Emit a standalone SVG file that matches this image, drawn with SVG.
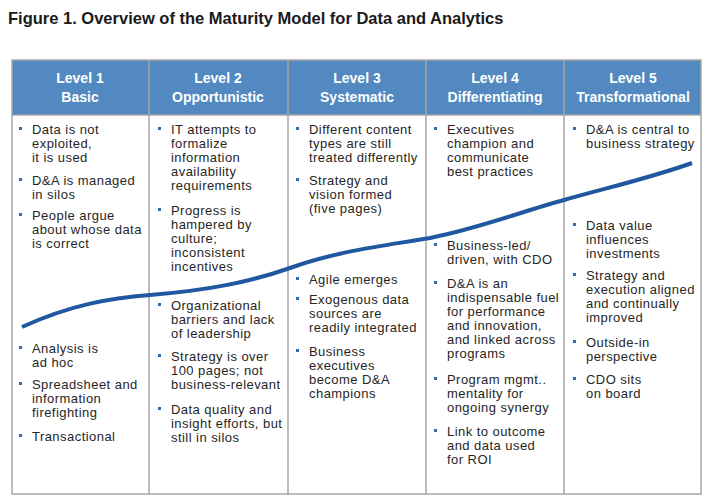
<svg xmlns="http://www.w3.org/2000/svg" width="710" height="497" viewBox="0 0 710 497">
<style>
.t{font-family:"Liberation Sans",Arial,sans-serif;font-size:13px;letter-spacing:0.45px;fill:#262626}
.h{font-family:"Liberation Sans",Arial,sans-serif;font-size:14px;font-weight:bold;fill:#fff;text-anchor:middle}
.b{fill:#2f6db0}
.ln{stroke:#a6a6a6;stroke-width:1.5;fill:none}
</style>
<defs><rect id="bu" width="3" height="3" class="b"/></defs>
<rect width="710" height="497" fill="#fff"/>
<text x="8" y="24" style="font-family:'Liberation Sans',Arial,sans-serif;font-size:16.5px;font-weight:bold;fill:#1a1a1a">Figure 1. Overview of the Maturity Model for Data and Analytics</text>
<g id="frame">
<rect x="12" y="60" width="689" height="55" fill="#5189c0"/>
<rect x="12" y="60" width="689" height="434" class="ln"/>
<line x1="12" y1="115" x2="701" y2="115" class="ln"/>
<line x1="149" y1="60" x2="149" y2="494" class="ln"/>
<line x1="288" y1="60" x2="288" y2="494" class="ln"/>
<line x1="426" y1="60" x2="426" y2="494" class="ln"/>
<line x1="564" y1="60" x2="564" y2="494" class="ln"/>
</g>
<g id="connectors">
<path d="M22,327 C70,305 110,298 150,295 C210,290 250,282 290,268 C340,250 390,245 430,238 C480,228 520,212 564,200 C610,187 650,178 692,163" fill="none" stroke="#1f58a0" stroke-width="4"/>
</g>
<g id="level1">
<text class="h" x="80" y="83">Level 1<tspan x="80" y="102">Basic</tspan></text>
<use href="#bu" x="19" y="127"/><use href="#bu" x="19" y="178"/><use href="#bu" x="19" y="213"/>
<use href="#bu" x="19" y="346"/><use href="#bu" x="19" y="382"/><use href="#bu" x="19" y="434"/>
<text class="t" x="32" y="134">Data is not<tspan x="32" y="148">exploited,</tspan><tspan x="32" y="162">it is used</tspan><tspan x="32" y="185">D&amp;A is managed</tspan><tspan x="32" y="199">in silos</tspan><tspan x="32" y="220">People argue</tspan><tspan x="32" y="234">about whose data</tspan><tspan x="32" y="248">is correct</tspan><tspan x="32" y="353">Analysis is</tspan><tspan x="32" y="367">ad hoc</tspan><tspan x="32" y="389">Spreadsheet and</tspan><tspan x="32" y="403">information</tspan><tspan x="32" y="417">firefighting</tspan><tspan x="32" y="441">Transactional</tspan></text>
</g>
<g id="level2">
<text class="h" x="218" y="83">Level 2<tspan x="218" y="102">Opportunistic</tspan></text>
<use href="#bu" x="158" y="127"/><use href="#bu" x="158" y="208"/><use href="#bu" x="158" y="303"/><use href="#bu" x="158" y="354"/><use href="#bu" x="158" y="407"/>
<text class="t" x="171" y="134">IT attempts to<tspan x="171" y="148">formalize</tspan><tspan x="171" y="162">information</tspan><tspan x="171" y="176">availability</tspan><tspan x="171" y="190">requirements</tspan><tspan x="171" y="215">Progress is</tspan><tspan x="171" y="229">hampered by</tspan><tspan x="171" y="243">culture;</tspan><tspan x="171" y="257">inconsistent</tspan><tspan x="171" y="271">incentives</tspan><tspan x="171" y="310">Organizational</tspan><tspan x="171" y="324">barriers and lack</tspan><tspan x="171" y="338">of leadership</tspan><tspan x="171" y="361">Strategy is over</tspan><tspan x="171" y="375">100 pages; not</tspan><tspan x="171" y="389">business-relevant</tspan><tspan x="171" y="414">Data quality and</tspan><tspan x="171" y="428">insight efforts, but</tspan><tspan x="171" y="442">still in silos</tspan></text>
</g>
<g id="level3">
<text class="h" x="357" y="83">Level 3<tspan x="357" y="102">Systematic</tspan></text>
<use href="#bu" x="296" y="127"/><use href="#bu" x="296" y="178"/><use href="#bu" x="296" y="277"/><use href="#bu" x="296" y="297"/><use href="#bu" x="296" y="349"/>
<text class="t" x="309" y="134">Different content<tspan x="309" y="148">types are still</tspan><tspan x="309" y="162">treated differently</tspan><tspan x="309" y="185">Strategy and</tspan><tspan x="309" y="199">vision formed</tspan><tspan x="309" y="213">(five pages)</tspan><tspan x="309" y="284">Agile emerges</tspan><tspan x="309" y="304">Exogenous data</tspan><tspan x="309" y="318">sources are</tspan><tspan x="309" y="332">readily integrated</tspan><tspan x="309" y="356">Business</tspan><tspan x="309" y="370">executives</tspan><tspan x="309" y="384">become D&amp;A</tspan><tspan x="309" y="398">champions</tspan></text>
</g>
<g id="level4">
<text class="h" x="495" y="83">Level 4<tspan x="495" y="102">Differentiating</tspan></text>
<use href="#bu" x="434" y="127"/><use href="#bu" x="434" y="243"/><use href="#bu" x="434" y="281"/><use href="#bu" x="434" y="377"/><use href="#bu" x="434" y="429"/>
<text class="t" x="447" y="134">Executives<tspan x="447" y="148">champion and</tspan><tspan x="447" y="162">communicate</tspan><tspan x="447" y="176">best practices</tspan><tspan x="447" y="250">Business-led/</tspan><tspan x="447" y="264">driven, with CDO</tspan><tspan x="447" y="288">D&amp;A is an</tspan><tspan x="447" y="302">indispensable fuel</tspan><tspan x="447" y="316">for performance</tspan><tspan x="447" y="330">and innovation,</tspan><tspan x="447" y="344">and linked across</tspan><tspan x="447" y="358">programs</tspan><tspan x="447" y="384">Program mgmt..</tspan><tspan x="447" y="398">mentality for</tspan><tspan x="447" y="412">ongoing synergy</tspan><tspan x="447" y="436">Link to outcome</tspan><tspan x="447" y="450">and data used</tspan><tspan x="447" y="464">for ROI</tspan></text>
</g>
<g id="level5">
<text class="h" x="633" y="83">Level 5<tspan x="633" y="102">Transformational</tspan></text>
<use href="#bu" x="573" y="127"/><use href="#bu" x="573" y="223"/><use href="#bu" x="573" y="273"/><use href="#bu" x="573" y="340"/><use href="#bu" x="573" y="377"/>
<text class="t" x="586" y="134">D&amp;A is central to<tspan x="586" y="148">business strategy</tspan><tspan x="586" y="230">Data value</tspan><tspan x="586" y="244">influences</tspan><tspan x="586" y="258">investments</tspan><tspan x="586" y="280">Strategy and</tspan><tspan x="586" y="294">execution aligned</tspan><tspan x="586" y="308">and continually</tspan><tspan x="586" y="322">improved</tspan><tspan x="586" y="347">Outside-in</tspan><tspan x="586" y="361">perspective</tspan><tspan x="586" y="384">CDO sits</tspan><tspan x="586" y="398">on board</tspan></text>
</g>
</svg>
